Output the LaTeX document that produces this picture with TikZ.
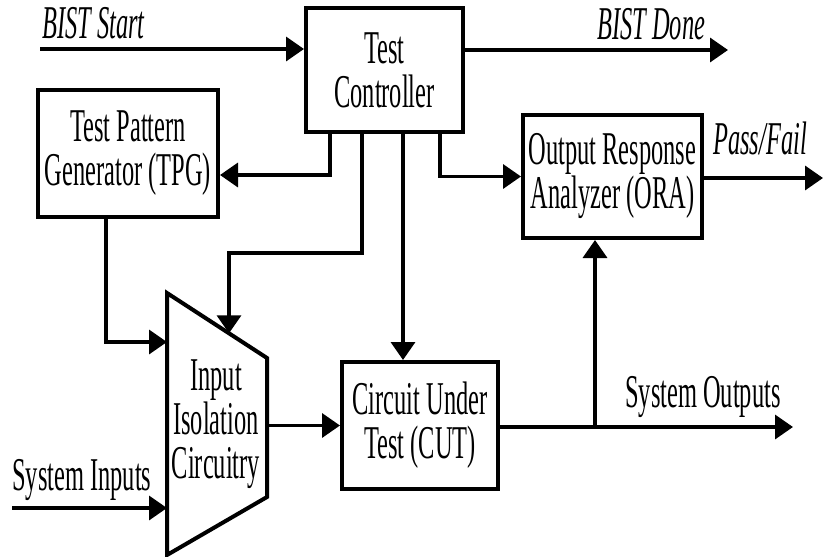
\documentclass[tikz,border=0pt]{standalone}
\usepackage{fontspec}
\setmainfont{Liberation Serif}[FakeStretch=0.52]
\usepackage{tikz}
\usetikzlibrary{arrows.meta, calc}

\begin{document}
\begin{tikzpicture}[x=1pt, y=-1pt,
    blk/.style={draw, line width=4pt, align=center, inner sep=0pt, font=\fontsize{47}{44}\selectfont},
    txt/.style={align=center, inner sep=0pt, font=\fontsize{47}{44}\selectfont},
    lbl/.style={anchor=base west, inner sep=0pt, font=\fontsize{47}{44}\selectfont},
    sig/.style={line width=3.5pt, -{Triangle[length=18pt, width=24pt]}}]
    \useasboundingbox (0,0) rectangle (825,557);

    % blocks
    \node[blk, minimum width=157pt, minimum height=124pt] (ctrl) at (384.5,70) {Test\\Controller};
    \node[blk, minimum width=180pt, minimum height=127pt] (tpg) at (128,153.5) {Test Pattern\\Generator (TPG)};
    \node[blk, minimum width=179pt, minimum height=123pt] (ora) at (612.5,176.5) {Output Response\\Analyzer (ORA)};
    \node[blk, minimum width=156pt, minimum height=127pt] (cut) at (420,425.5) {Circuit Under\\Test (CUT)};

    % input isolation (trapezoid)
    \coordinate (iic-nw) at (167,293);
    \coordinate (iic-ne) at (267,358);
    \coordinate (iic-se) at (267,497);
    \coordinate (iic-sw) at (167,555);
    \draw[line width=4pt] (iic-nw) -- (iic-ne) -- (iic-se) -- (iic-sw) -- cycle;
    \node[txt] (iic) at (216,424) {Input\\Isolation\\Circuitry};

    % signal labels
    \node[lbl, font=\fontsize{47}{44}\selectfont\itshape] (bs-lbl) at (42,38) {BIST Start};
    \node[lbl, font=\fontsize{47}{44}\selectfont\itshape] (bd-lbl) at (597,39) {BIST Done};
    \node[lbl, font=\fontsize{47}{44}\selectfont\itshape] (pf-lbl) at (713,154) {Pass/Fail};
    \node[lbl] (si-lbl) at (12,490) {System Inputs};
    \node[lbl] (so-lbl) at (625,407) {System Outputs};

    % start / done
    \coordinate (bs) at (40,49);
    \coordinate (bd) at (728,50);
    \draw[sig] (bs) -- (bs -| ctrl.west);
    \draw[sig] (ctrl.east |- bd) -- (bd);

    % controller outputs
    \coordinate (c-tpg) at (330,175);
    \coordinate (c-iic) at (362,253);
    \coordinate (c-cut) at (403,250);
    \coordinate (c-ora) at (440,178);
    \coordinate (iic-in) at ($(iic-nw)!0.62!(iic-ne)$);
    \draw[sig] (ctrl.south -| c-tpg) |- (tpg.east |- c-tpg);
    \draw[sig] (ctrl.south -| c-iic) |- (c-iic -| iic-in) -- (iic-in);
    \draw[sig] (ctrl.south -| c-cut) -- (cut.north -| c-cut);
    \draw[sig] (ctrl.south -| c-ora) |- (ora.west);

    % pass/fail
    \coordinate (pf) at (823,178);
    \draw[sig] (ora.east |- pf) -- (pf);

    % into isolation
    \coordinate (t-iic) at (106,342);
    \coordinate (si) at (12,508);
    \draw[sig] (tpg.south -| t-iic) |- (iic-nw |- t-iic);
    \draw[sig] (si) -- (iic-nw |- si);

    % isolation -> CUT -> outputs
    \coordinate (so) at (793,427);
    \coordinate (br) at (595,427);
    \draw[sig] (iic-ne |- cut.west) -- (cut.west);
    \draw[sig] (cut.east |- so) -- (so);
    \draw[sig] (br) -- (ora.south -| br);
  \end{tikzpicture}
\end{document}
